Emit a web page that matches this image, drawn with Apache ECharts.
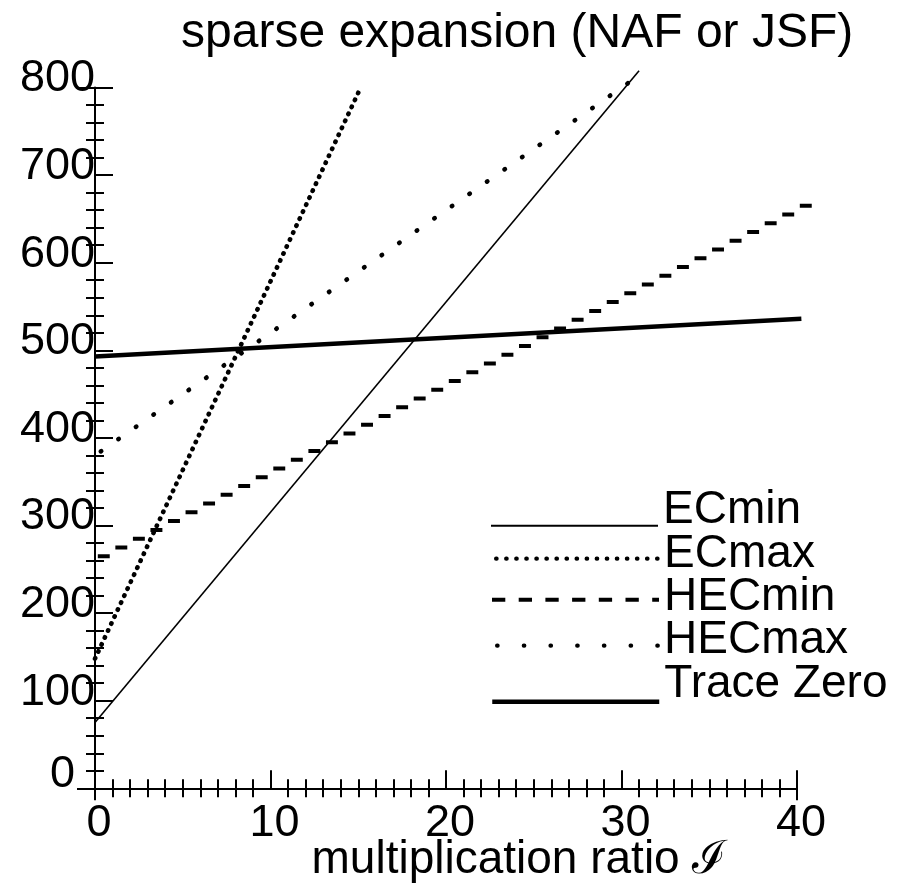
<!DOCTYPE html>
<html>
<head>
<meta charset="utf-8">
<script src="https://cdn.jsdelivr.net/npm/echarts@6/dist/echarts.min.js"></script>
<style>html,body{margin:0;padding:0;background:#fff}#c{width:909px;height:886px}</style>
</head>
<body>
<div id="c"></div>
<script>
// ---- data ----
const titleText = 'sparse expansion (NAF or JSF)';
const xName = 'multiplication ratio \u2110';
const xTickValues = [0, 10, 20, 30, 40];
const yTickValues = [0, 100, 200, 300, 400, 500, 600, 700, 800];
const seriesNames = ['ECmin', 'ECmax', 'HECmin', 'HECmax', 'Trace Zero'];

const ecminX = [0, 31];
const ecminY = [75, 819];
const ecmaxX = [0, 15];
const ecmaxY = [148, 794];
// HECmin is a staircase: one level per unit interval [n, n+1)
const hecminX = [0,1,2,3,4,5,6,7,8,9,10,11,12,13,14,15,16,17,18,19,20,21,22,23,24,25,26,27,28,29,30,31,32,33,34,35,36,37,38,39,40];
const hecminY = [265,275,285,295,305,315,325,335,345,355,365,375,385,395,405,415,425,435,445,455,465,475,485,495,505,515,525,535,545,555,565,575,585,595,605,615,625,635,645,655,665];
const hecmaxX = [0, 31.3];
const hecmaxY = [380, 818];
const traceX = [0, 40.25];
const traceY = [493, 536];

// ---- build ----
const FONT = "'Liberation Sans', Arial, Helvetica, sans-serif";
const zip = (xs, ys) => xs.map((x, i) => [x, ys[i]]);
const black = '#000';
const tickLine = { color: black, width: 2 };

const X_MAX = 40, X_DATA_MAX = 41, Y_MAX = 800;
const GRID_LEFT = 95, GRID_TOP = 87.5, GRID_W = 702, GRID_H = 700.8;

// each step level is drawn as a short horizontal dash inside its unit interval
const DASH_FROM = 0.16, DASH_TO = 0.84;
const hecminData = [];
hecminX.forEach((x, i) => {
  hecminData.push([x + DASH_FROM, hecminY[i]], [x + DASH_TO, hecminY[i]], [x + 0.9, '-']);
});

const hidden = {
  axisLine: { show: false }, axisTick: { show: false }, minorTick: { show: false },
  splitLine: { show: false }, axisLabel: { show: false }
};

function xAxisMain() {
  return {
    gridIndex: 0, type: 'value', min: 0, max: X_MAX, interval: 10, position: 'bottom',
    axisLine: { show: true, onZero: false, lineStyle: { color: black, width: 2 } },
    axisTick: { show: true, inside: true, length: 18, lineStyle: tickLine },
    minorTick: { show: true, splitNumber: 10, length: 9, lineStyle: tickLine },
    splitLine: { show: false }, minorSplitLine: { show: false },
    axisLabel: {
      show: true, color: black, fontFamily: FONT, fontSize: 45, lineHeight: 45,
      margin: 13, padding: [0, 0, 0, 8], showMinLabel: true, showMaxLabel: true,
      formatter: v => (xTickValues.indexOf(v) >= 0 ? String(v) : '')
    },
    name: xName, nameLocation: 'middle', nameGap: 48.7, nameMoveOverlap: false,
    nameTextStyle: { color: black, fontFamily: FONT, fontSize: 46, lineHeight: 46, padding: [0, 0, 0, 146] }
  };
}
function xAxisMinorOut() {
  return {
    gridIndex: 0, type: 'value', min: 0, max: X_MAX, interval: 10, position: 'bottom',
    axisLine: { show: false, onZero: false },
    axisTick: { show: false, inside: false },
    minorTick: { show: true, splitNumber: 10, length: 9, lineStyle: tickLine },
    splitLine: { show: false }, minorSplitLine: { show: false },
    axisLabel: { show: false }
  };
}
function xAxisEnds() {
  return {
    gridIndex: 0, type: 'value', min: 0, max: X_MAX, interval: X_MAX, position: 'bottom',
    axisLine: { show: false, onZero: false },
    axisTick: { show: true, inside: false, length: 12, lineStyle: tickLine },
    minorTick: { show: false }, splitLine: { show: false }, axisLabel: { show: false }
  };
}
function yAxisMain() {
  return {
    gridIndex: 0, type: 'value', min: 0, max: Y_MAX, interval: 100, position: 'left',
    axisLine: { show: true, onZero: false, lineStyle: { color: black, width: 2 } },
    axisTick: { show: true, inside: true, length: 18, lineStyle: tickLine },
    minorTick: { show: true, splitNumber: 5, length: 9, lineStyle: tickLine },
    splitLine: { show: false }, minorSplitLine: { show: false },
    axisLabel: {
      show: true, color: black, fontFamily: FONT, fontSize: 45, margin: 0,
      verticalAlign: 'bottom', lineHeight: 17, showMinLabel: true, showMaxLabel: true,
      formatter: v => (v === 0 ? '{z|0}' : (yTickValues.indexOf(v) >= 0 ? String(v) : '')),
      rich: { z: { fontFamily: FONT, fontSize: 45, lineHeight: 28, color: black, padding: [0, 20, 0, 0] } }
    }
  };
}
function yAxisMinorOut() {
  return {
    gridIndex: 0, type: 'value', min: 0, max: Y_MAX, interval: 100, position: 'left',
    axisLine: { show: false, onZero: false },
    axisTick: { show: false, inside: false },
    minorTick: { show: true, splitNumber: 5, length: 9, lineStyle: tickLine },
    splitLine: { show: false }, minorSplitLine: { show: false },
    axisLabel: { show: false }
  };
}
function yAxisEnds() {
  return {
    gridIndex: 0, type: 'value', min: 0, max: Y_MAX, interval: Y_MAX, position: 'left',
    axisLine: { show: false, onZero: false },
    axisTick: { show: true, inside: false, length: 18, lineStyle: tickLine },
    minorTick: { show: false }, splitLine: { show: false }, axisLabel: { show: false }
  };
}
// data axes: same scale as the visible axes, extended one unit to the right
const xAxisData = Object.assign({ gridIndex: 1, type: 'value', min: 0, max: X_DATA_MAX, interval: 1, position: 'bottom' }, hidden);
const yAxisData = Object.assign({ gridIndex: 1, type: 'value', min: 0, max: Y_MAX, interval: 100, position: 'left' }, hidden);

const seriesStyles = [
  { width: 1.6, type: 'solid', cap: 'butt' },
  { width: 4.6, type: [0.5, 7.2], cap: 'round' },
  { width: 4, type: 'solid', cap: 'butt' },
  { width: 4.6, type: [0.5, 20.91], dashOffset: 14.34, cap: 'round' },
  { width: 4.5, type: 'solid', cap: 'butt' }
];
const seriesData = [
  zip(ecminX, ecminY), zip(ecmaxX, ecmaxY), hecminData,
  zip(hecmaxX, hecmaxY), zip(traceX, traceY)
];

const series = seriesNames.map((name, i) => ({
  name, type: 'line', data: seriesData[i], xAxisIndex: 2, yAxisIndex: 2,
  symbol: 'none', showSymbol: false, clip: false, silent: true, connectNulls: false,
  lineStyle: Object.assign({ color: black }, seriesStyles[i]),
  itemStyle: { color: black },
  emphasis: { disabled: true }, animation: false
}));

// legend rows: line y and how far the label sits above the sample line
const legendRows = [
  { y: 525, lift: 15.5, ls: { width: 2, type: 'solid', cap: 'butt', dashOffset: 0 } },
  { y: 558, lift: 4.5, ls: { width: 4.2, type: [0.5, 9.56], cap: 'round', dashOffset: 6.06 } },
  { y: 599, lift: 2.5, ls: { width: 4, type: [13.3, 13.4], cap: 'butt', dashOffset: 0 } },
  { y: 645, lift: 5, ls: { width: 4.2, type: [0.5, 26.2], cap: 'round', dashOffset: 21.7 } },
  { y: 701, lift: 17.5, ls: { width: 4.5, type: 'solid', cap: 'butt', dashOffset: 0 } }
];
const legends = seriesNames.map((name, i) => {
  const r = legendRows[i];
  const L = 2 * r.lift;
  return {
    show: true, data: [name], orient: 'horizontal', left: 490,
    top: r.y - 22.3 - r.lift, padding: 0, itemGap: 0,
    itemWidth: 167, itemHeight: 10, selectedMode: false,
    formatter: n => n + '\n',
    itemStyle: { opacity: 0 },
    lineStyle: Object.assign({ color: black }, r.ls),
    textStyle: { color: black, fontFamily: FONT, fontSize: 46, lineHeight: L }
  };
});

const chart = echarts.init(document.getElementById('c'), null, { renderer: 'canvas' });
chart.setOption({
  animation: false,
  backgroundColor: '#fff',
  title: {
    text: titleText, left: 181, top: 10, padding: 0,
    textStyle: { color: black, fontFamily: FONT, fontSize: 48, fontWeight: 'normal', lineHeight: 48 }
  },
  grid: [
    { left: GRID_LEFT, top: GRID_TOP, width: GRID_W, height: GRID_H, containLabel: false, outerBoundsMode: 'none' },
    { left: GRID_LEFT, top: GRID_TOP, width: GRID_W * X_DATA_MAX / X_MAX, height: GRID_H, containLabel: false, outerBoundsMode: 'none' }
  ],
  xAxis: [xAxisMain(), xAxisMinorOut(), xAxisData, xAxisEnds()],
  yAxis: [yAxisMain(), yAxisMinorOut(), yAxisData, yAxisEnds()],
  legend: legends,
  series
});
</script>
</body>
</html>
